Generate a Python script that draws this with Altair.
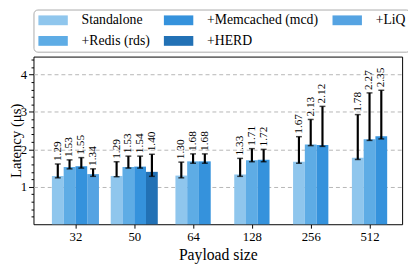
import json
import altair as alt
import pandas as pd

# ---- data ----
sizes = ["32", "50", "64", "128", "256", "512"]
series = ["Standalone", "+Redis (rds)", "+Memcached (mcd)", "+HERD", "+LiQ"]

standalone = [1.29, 1.29, 1.30, 1.33, 1.67, 1.78]
redis = [1.53, 1.53, 1.68, 1.71, 2.13, 2.27]
memcached = [1.55, 1.54, 1.68, 1.72, 2.12, 2.35]
herd = [None, 1.40, None, None, None, None]
liq = [1.34, None, None, None, None, None]

standalone_lo = [1.24, 1.27, 1.24, 1.28, 1.63, 1.73]
redis_lo = [1.48, 1.50, 1.63, 1.67, 2.10, 2.24]
memcached_lo = [1.50, 1.50, 1.63, 1.67, 2.08, 2.28]
herd_lo = [None, 1.28, None, None, None, None]
liq_lo = [1.28, None, None, None, None, None]

standalone_hi = [1.61, 1.67, 1.66, 1.76, 2.34, 2.93]
redis_hi = [1.72, 1.82, 1.88, 2.02, 2.80, 3.51]
memcached_hi = [1.78, 1.82, 1.88, 2.00, 3.15, 3.58]
herd_hi = [None, 1.87, None, None, None, None]
liq_hi = [1.48, None, None, None, None, None]

values = [standalone, redis, memcached, herd, liq]
lows = [standalone_lo, redis_lo, memcached_lo, herd_lo, liq_lo]
highs = [standalone_hi, redis_hi, memcached_hi, herd_hi, liq_hi]

legend_order = ["Standalone", "+Memcached (mcd)", "+LiQ", "+Redis (rds)", "+HERD"]
legend_colors = ["#8fc6ed", "#3592dc", "#55a3e2", "#5eace5", "#2271b5"]

rows = []
for si, name in enumerate(series):
    for gi, size in enumerate(sizes):
        v = values[si][gi]
        if v is None:
            continue
        rows.append({"gi": gi, "size": size, "series": name, "order": si,
                     "value": v, "lo": lows[si][gi], "hi": highs[si][gi]})
df = pd.DataFrame(rows)

FONT = "Liberation Serif"
BW = 0.2

base = (
    alt.Chart(df)
    .transform_window(slot="row_number()", groupby=["gi"], sort=[{"field": "order"}])
    .transform_joinaggregate(n="count()", groupby=["gi"])
    .transform_calculate(
        xc=f"datum.gi + (datum.slot - 1 - (datum.n - 1) / 2) * {BW}",
        zero="0",
    )
    .transform_calculate(xl=f"datum.xc - {BW / 2}", xr=f"datum.xc + {BW / 2}")
)

xscale = alt.Scale(domain=[-0.713, 5.554], nice=False, zero=False)
yscale = alt.Scale(domain=[0, 4.48], nice=False)

yvals = [round(0.2 * i, 1) for i in range(1, 23)]
is_int = "abs(datum.value - round(datum.value)) < 0.001"

xaxis = alt.Axis(values=list(range(len(sizes))),
                 labelExpr=f"{json.dumps(sizes)}[datum.value]",
                 title="Payload size", grid=False, domain=False,
                 tickSize=4, tickColor="black", labelFontSize=13,
                 titleFontSize=16, labelPadding=3, titlePadding=3,
                 labelFlush=False, labelColor="black", titleColor="black",
                 titleFontWeight="normal")
yaxis = alt.Axis(values=yvals,
                 labelExpr=f"{is_int} ? format(datum.value, 'd') : ''",
                 labelOverlap=False, labelFlush=False,
                 title="Latency (μs)", titleFontSize=15,
                 titleX=-18, titleBaseline="middle",
                 titleFontWeight="normal", titleColor="black",
                 labelFontSize=13, labelColor="black", labelPadding=2,
                 domain=False, tickColor="black",
                 tickSize={"condition": {"test": is_int, "value": 5}, "value": 2.5},
                 grid=True, gridColor="#b5b5b5", gridDash=[4, 3],
                 gridOpacity={"condition": {"test": is_int, "value": 1}, "value": 0})

bars = base.mark_bar().encode(
    x=alt.X("xl:Q", scale=xscale, axis=xaxis),
    x2="xr:Q",
    y=alt.Y("value:Q", scale=yscale, axis=yaxis),
    y2="zero:Q",
    color=alt.Color("series:N",
                    scale=alt.Scale(domain=legend_order, range=legend_colors),
                    legend=alt.Legend(title=None, orient="none", legendX=0, legendY=-48,
                                      columns=3, direction="horizontal",
                                      symbolType="M-3,-1H3V1H-3Z", symbolSize=100,
                                      symbolStrokeWidth=0, symbolOffset=9,
                                      labelOffset=22, labelFontSize=14, labelFont=FONT,
                                      labelColor="black",
                                      columnPadding=13, rowPadding=7, padding=4,
                                      strokeColor="#aaaaaa", cornerRadius=4,
                                      fillColor="white")),
)

rule = base.mark_rule(color="black", strokeWidth=2.2).encode(
    x=alt.X("xc:Q", scale=xscale, axis=xaxis),
    y=alt.Y("lo:Q", scale=yscale, axis=yaxis),
    y2="hi:Q",
)
cap_hi = base.mark_tick(orient="horizontal", color="black", size=6, thickness=1.5).encode(
    x=alt.X("xc:Q", scale=xscale, axis=xaxis),
    y=alt.Y("hi:Q", scale=yscale, axis=yaxis),
)
cap_lo = base.mark_tick(orient="horizontal", color="black", size=6, thickness=1.5).encode(
    x=alt.X("xc:Q", scale=xscale, axis=xaxis),
    y=alt.Y("lo:Q", scale=yscale, axis=yaxis),
)
labels = base.mark_text(angle=270, align="left", baseline="middle", dx=3,
                        fontSize=11.5, font=FONT, color="black").encode(
    x=alt.X("xc:Q", scale=xscale, axis=xaxis),
    y=alt.Y("hi:Q", scale=yscale, axis=yaxis),
    text=alt.Text("value:Q", format=".2f"),
)

chart = (
    alt.layer(bars, rule, cap_hi, cap_lo, labels)
    .properties(width=376, height=171,
                autosize=alt.AutoSizeParams(type="none"),
                padding={"left": 26, "top": 47, "right": 6, "bottom": 38})
    .configure(font=FONT)
    .configure_axis(labelFont=FONT, titleFont=FONT)
    .configure_view(stroke="black", strokeWidth=1)
)

chart.save("out.html", embed_options={"renderer": "svg", "actions": False})
